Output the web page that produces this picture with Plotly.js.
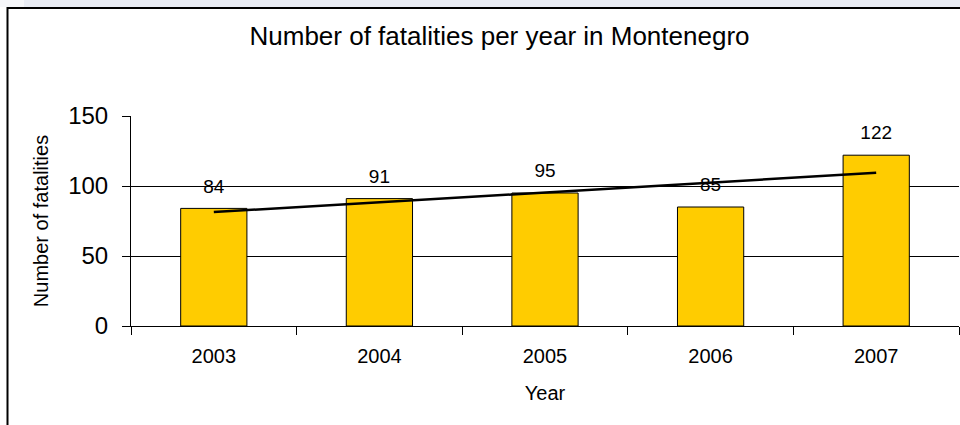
<!DOCTYPE html>
<html>
<head>
<meta charset="utf-8">
<script src="https://cdn.plot.ly/plotly-3.0.1.min.js"></script>
<style>html,body{margin:0;padding:0;background:#fff;}#chart{width:960px;height:425px;}</style>
</head>
<body>
<div id="chart"></div>
<script>
const years = ['2003', '2004', '2005', '2006', '2007'];
const fatalities = [84, 91, 95, 85, 122];
const trendYears = ['2003', '2007'];
const trendValues = [81.4, 109.4];
const yTicks = [0, 50, 100, 150];

const W = 960, H = 425;
const L = 131, R = 959, T = 116, B = 326;
const pw = R - L, ph = B - T;
const px = v => (v - L) / pw;
const py = v => (B - v) / ph;

const font = 'Liberation Sans, Arial, sans-serif';

const bars = {
  type: 'bar',
  x: years,
  y: fatalities,
  width: 0.4,
  marker: {color: '#FFCC00', line: {color: '#000000', width: 1}},
  hoverinfo: 'x+y',
  showlegend: false
};
const trend = {
  type: 'scatter',
  mode: 'lines',
  x: trendYears,
  y: trendValues,
  line: {color: '#000000', width: 2.5},
  showlegend: false
};
const labels = {
  type: 'scatter',
  mode: 'markers+text',
  x: years,
  y: fatalities,
  text: fatalities.map(String),
  textposition: 'top center',
  textfont: {family: font, size: 19, color: '#000'},
  marker: {size: 16, opacity: 0, color: '#000'},
  cliponaxis: false,
  showlegend: false,
  hoverinfo: 'skip'
};

const layout = {
  width: W, height: H,
  margin: {l: L, r: W - R, t: T, b: H - B, pad: 0},
  paper_bgcolor: '#ffffff',
  plot_bgcolor: 'rgba(0,0,0,0)',
  font: {family: font, color: '#000'},
  title: {
    text: 'Number of fatalities per year in Montenegro',
    font: {family: font, size: 26, color: '#000'},
    x: 499.5 / W, xanchor: 'center', xref: 'container',
    y: 1 - 36 / H, yanchor: 'middle', yref: 'container'
  },
  xaxis: {
    type: 'category',
    range: [-0.5, 4.5],
    tickson: 'boundaries',
    ticks: 'outside', ticklen: 8, tickcolor: '#000', tickwidth: 1,
    showline: true, linecolor: '#000', linewidth: 1,
    showgrid: false, zeroline: false,
    tickfont: {family: font, size: 20, color: '#000'},
    ticklabelstandoff: 12,
    title: {text: 'Year', font: {family: font, size: 20, color: '#000'}, standoff: 19},
    fixedrange: true
  },
  yaxis: {
    range: [0, 150],
    tickvals: yTicks,
    ticks: 'outside', ticklen: 8, tickcolor: '#000', tickwidth: 1,
    showline: true, linecolor: '#000', linewidth: 1,
    showgrid: true, gridcolor: '#000', gridwidth: 1,
    zeroline: false,
    tickfont: {family: font, size: 24, color: '#000'},
    ticklabelstandoff: 9,
    title: {text: 'Number of fatalities', font: {family: font, size: 20, color: '#000'}, standoff: 14},
    fixedrange: true
  },
  bargap: 0.6,
  shapes: [
    {type: 'rect', xref: 'paper', yref: 'paper', layer: 'below',
     x0: px(0), x1: px(W), y0: py(0), y1: py(7),
     fillcolor: '#e9ecf4', line: {width: 0}},
    {type: 'rect', xref: 'paper', yref: 'paper', layer: 'below',
     x0: px(0), x1: px(24), y0: py(0), y1: py(7),
     fillcolor: '#f6f7fa', line: {width: 0}},
    {type: 'rect', xref: 'paper', yref: 'paper', layer: 'below',
     x0: px(7.5), x1: px(964), y0: py(8), y1: py(432),
     fillcolor: '#ffffff', line: {color: '#000', width: 2}}
  ]
};

Plotly.newPlot('chart', [bars, trend, labels], layout, {displayModeBar: false, staticPlot: true});
</script>
</body>
</html>
